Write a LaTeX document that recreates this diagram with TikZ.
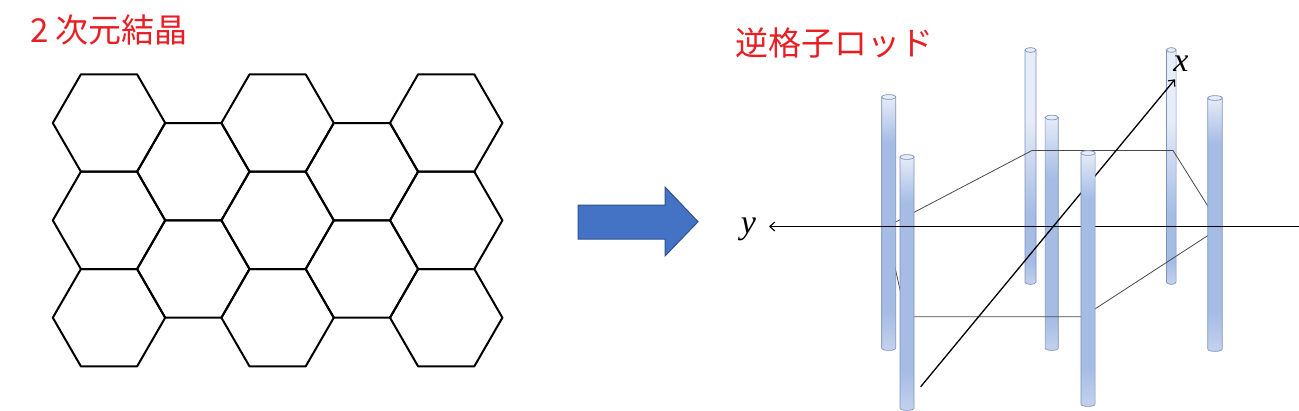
\documentclass[tikz,border=0pt]{standalone}
\usepackage{fontspec}
\newfontfamily\jpfont{Noto Sans CJK JP}
\newfontfamily\tmsfont{Liberation Serif}
\usetikzlibrary{arrows.meta}
\definecolor{titlered}{RGB}{232,30,36}
\definecolor{arrowblue}{HTML}{4472C4}
\definecolor{arrowedge}{HTML}{2F528F}
\definecolor{rodlight}{HTML}{E6ECF8}
\definecolor{rodmid}{HTML}{A5BCE5}
\definecolor{rodbot}{HTML}{C4D2ED}
\definecolor{rodedge}{HTML}{7F93BA}
\definecolor{framegray}{HTML}{4A4A4A}
\pgfdeclareverticalshading{rodfront}{100bp}{color(0bp)=(rodbot); color(25bp)=(rodbot); color(33bp)=(rodmid); color(66bp)=(rodmid); color(75bp)=(rodlight); color(100bp)=(rodlight)}
\pgfdeclareverticalshading{rodmidshade}{100bp}{color(0bp)=(rodbot); color(25bp)=(rodbot); color(32bp)=(rodmid); color(62bp)=(rodmid); color(75bp)=(rodlight); color(100bp)=(rodlight)}
\pgfdeclareverticalshading{rodback}{100bp}{color(0bp)=(rodbot); color(25bp)=(rodbot); color(30bp)=(rodmid); color(40bp)=(rodmid); color(60bp)=(rodlight); color(100bp)=(rodlight)}
\newcommand\myrod[5]{%
  \shadedraw[shading=#5, draw=rodedge, line width=0.7pt] (#1-#2,#3) -- (#1-#2,#4) .. controls (#1-#2,#4+3.2) and (#1+#2,#4+3.2) .. (#1+#2,#4) -- (#1+#2,#3) -- cycle;
  \filldraw[fill=rodlight, draw=rodedge, line width=0.7pt] (#1,#3) ellipse [x radius=#2, y radius=2.4];
}
\tikzset{
  hexline/.style={draw=black, line width=2pt, line join=round},
  frameline/.style={draw=framegray, line width=0.8pt},
  axisline/.style={draw=black, line width=1.3pt, -{Straight Barb[length=5pt,width=9pt,line width=1.1pt]}},
  titletext/.style={text=titlered, font=\jpfont\fontsize{33}{40}\selectfont, inner sep=0pt, anchor=west},
  axislabel/.style={font=\tmsfont\itshape\fontsize{34}{40}\selectfont, inner sep=0pt}
}
\begin{document}
\begin{tikzpicture}[x=1pt, y=-1pt]
\useasboundingbox (0,0) rectangle (1299,410);
\fill[white] (0,0) rectangle (1299,410);

% titles
\node[titletext] (t1) at (30,29.5) {2 次元結晶};
\node[titletext] (t2) at (735,43) {逆格子ロッド};

% honeycomb
\foreach \cx/\cy in {109/123, 109/220.34, 109/317.68,
                     193.3/171.67, 193.3/269.01,
                     277.6/123, 277.6/220.34, 277.6/317.68,
                     361.9/171.67, 361.9/269.01,
                     446.2/123, 446.2/220.34, 446.2/317.68}{
  \draw[hexline] (\cx+56.2,\cy) -- (\cx+28.1,\cy-48.67) -- (\cx-28.1,\cy-48.67)
     -- (\cx-56.2,\cy) -- (\cx-28.1,\cy+48.67) -- (\cx+28.1,\cy+48.67) -- cycle;
}

% block arrow
\filldraw[fill=arrowblue, draw=arrowedge, line width=1pt, line join=miter]
  (578,205) -- (665,205) -- (665,187) -- (698,221.7) -- (665,256) -- (665,239) -- (578,239) -- cycle;

% back rods
\myrod{1030.5}{5.5}{50}{282}{rodback}
\myrod{1171.3}{4.8}{50}{282}{rodback}
\myrod{1051.7}{6.6}{117.5}{348}{rodmidshade}

% hexagonal frame in the plane
\coordinate (hC) at (1032,150.5);
\coordinate (hF) at (1173,150.5);
\coordinate (hG) at (1221,227);
\coordinate (hE) at (1083,316.7);
\coordinate (hB) at (906,316.7);
\coordinate (hA) at (886,227);
\draw[frameline] (hC) -- (hF) -- (hG) -- (hE) -- (hB) -- (hA) -- cycle;

% x axis
\coordinate (xs) at (920.7,386.7);
\coordinate (xe) at (1175,79.3);
\draw[axisline] (xs) -- (xe);

% front rods
\myrod{888.7}{7}{97}{348}{rodfront}
\myrod{907}{7}{157}{408}{rodfront}
\myrod{1215}{7.2}{98}{349}{rodfront}

% y axis
\coordinate (ys) at (1299,226.5);
\coordinate (ye) at (769,226.5);
\draw[axisline] (ys) -- (ye);

% front-most rod
\myrod{1088}{7.1}{153}{404}{rodfront}

\node[axislabel] (xl) at (1181,63.4) {x};
\node[axislabel] (yl) at (748.5,229) {y};
\end{tikzpicture}
\end{document}
